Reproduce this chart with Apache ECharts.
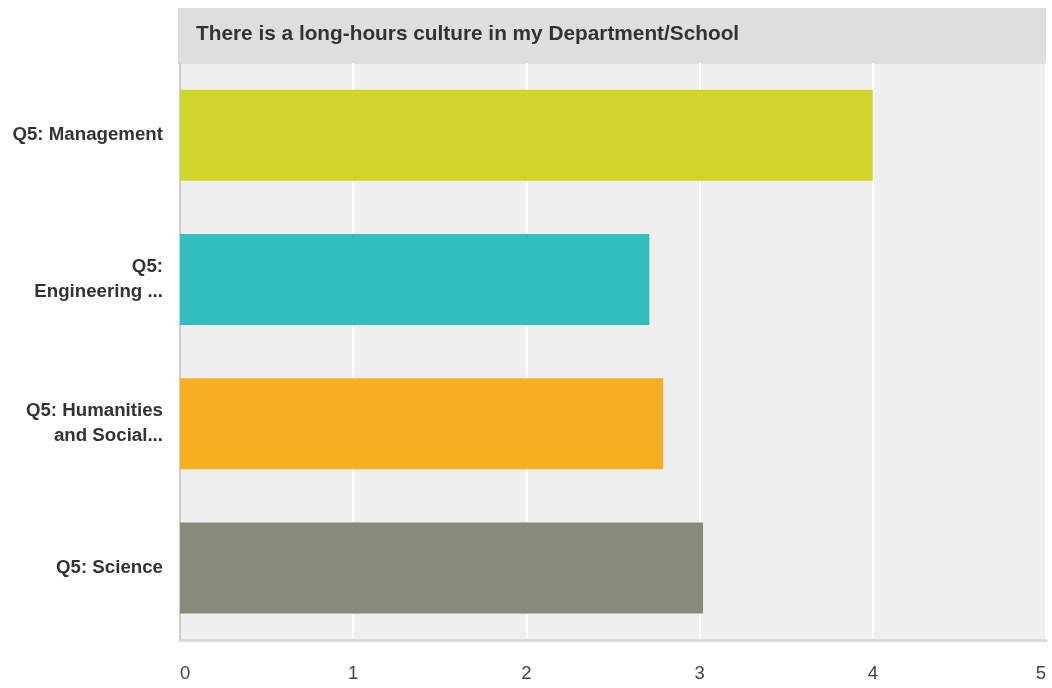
<!DOCTYPE html>
<html>
<head>
<meta charset="utf-8">
<script src="https://cdn.jsdelivr.net/npm/echarts@6/dist/echarts.min.js"></script>
<style>
html,body{margin:0;padding:0;background:#fff;}
#chart{width:1052px;height:688px;}
</style>
</head>
<body>
<div id="chart"></div>
<script>
var titleText = 'There is a long-hours culture in my Department/School';
var categories = ['Q5: Management', 'Q5:\nEngineering ...', 'Q5: Humanities\nand Social...', 'Q5: Science'];
var values = [4.0, 2.71, 2.79, 3.02];
var barColors = ['#cfd52a', '#33bec0', '#f6af21', '#898a79'];
var xTicks = [0, 1, 2, 3, 4, 5];

var FONT = '"Liberation Sans", Arial, sans-serif';
var chart = echarts.init(document.getElementById('chart'), null, {renderer: 'canvas'});
chart.setOption({
  animation: false,
  backgroundColor: '#ffffff',
  graphic: [
    {type: 'rect', left: 178, top: 8, shape: {width: 868, height: 56}, style: {fill: '#dedede'}, z: 0},
    {type: 'text', x: 196, y: 34, style: {text: titleText, font: 'bold 20.8px ' + FONT, fill: '#333333', verticalAlign: 'middle', align: 'left'}, z: 1}
  ],
  grid: {left: 180, right: 6, top: 63, bottom: 48, show: true, backgroundColor: '#efefef', borderWidth: 0},
  xAxis: {
    type: 'value',
    min: xTicks[0],
    max: xTicks[xTicks.length - 1],
    interval: 1,
    axisLine: {show: true, lineStyle: {color: '#dadada', width: 3}},
    axisTick: {show: false},
    splitLine: {show: true, lineStyle: {color: '#ffffff', width: 2}},
    axisLabel: {
      color: '#444444', fontSize: 18.5, fontFamily: FONT, margin: 24,
      alignMinLabel: 'left', alignMaxLabel: 'right'
    }
  },
  yAxis: {
    type: 'category',
    inverse: true,
    data: categories,
    axisLine: {show: true, lineStyle: {color: '#cfcfcf', width: 2}},
    axisTick: {show: false},
    splitLine: {show: false},
    axisLabel: {
      color: '#333333', fontSize: 18.7, fontWeight: 'bold', fontFamily: FONT,
      margin: 17, lineHeight: 25, align: 'right', padding: [4, 0, 0, 0]
    }
  },
  series: [{
    type: 'bar',
    barWidth: 91,
    data: values.map(function (v, i) { return {value: v, itemStyle: {color: barColors[i]}}; }),
    z: 3
  }]
});
</script>
</body>
</html>
